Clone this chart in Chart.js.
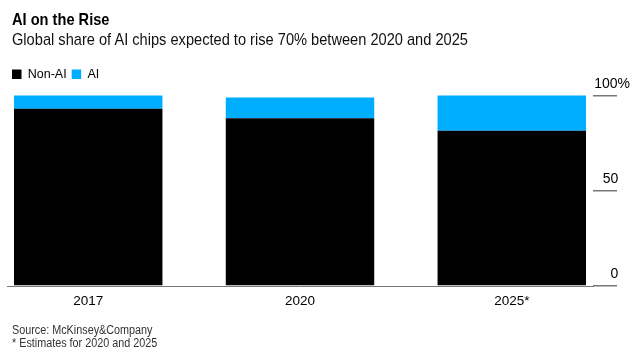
<!DOCTYPE html>
<html>
<head>
<meta charset="utf-8">
<script src="https://cdn.jsdelivr.net/npm/chart.js@4"></script>
<style>
  html, body { margin: 0; padding: 0; background: #fff; }
  #wrap { position: relative; width: 636px; height: 352px; overflow: hidden; }
  #c { position: absolute; left: 0; top: 0; }
  .txt { position: absolute; left: 12px; white-space: nowrap; font-family: 'Liberation Sans', Arial, sans-serif; transform-origin: 0 0; }
  #title { top: 11px; font-size: 17px; line-height: 17px; font-weight: bold; color: #000; transform: scaleX(0.86); }
  #subtitle { top: 31px; font-size: 17px; line-height: 17px; color: #111; transform: scaleX(0.86); }
  #footer { top: 324px; font-size: 12px; line-height: 12.5px; color: #333; transform: scaleX(0.9); }
</style>
</head>
<body>
<div id="wrap">
  <canvas id="c" width="636" height="352"></canvas>
  <div class="txt" id="title">AI on the Rise</div>
  <div class="txt" id="subtitle">Global share of AI chips expected to rise 70% between 2020 and 2025</div>
  <div class="txt" id="footer">Source: McKinsey&amp;Company<br>* Estimates for 2020 and 2025</div>
</div>
<script>
const categories = ['2017', '2020', '2025*'];
const nonAI = [93, 88, 81.5];
const ai = [7, 11, 18.5];
const yTickValues = [0, 50, 100];
const seriesNames = ['Non-AI', 'AI'];

const toPoints = arr => arr.map((v, i) => ({ x: i, y: v }));

new Chart(document.getElementById('c'), {
  type: 'bar',
  data: {
    datasets: [
      { label: seriesNames[0], data: toPoints(nonAI), backgroundColor: '#000000', borderWidth: 0 },
      { label: seriesNames[1], data: toPoints(ai), backgroundColor: '#00aeff', borderWidth: 0 }
    ]
  },
  options: {
    responsive: false,
    animation: false,
    events: [],
    layout: { padding: { top: 40, left: 7, right: 6, bottom: 0 } },
    categoryPercentage: 1,
    barPercentage: 0.701,
    plugins: {
      legend: {
        display: true,
        position: 'top',
        align: 'start',
        labels: {
          boxWidth: 9.5,
          boxHeight: 9.5,
          padding: 5,
          color: '#000',
          font: { family: "'Liberation Sans', Arial, sans-serif", size: 12.5 }
        }
      },
      tooltip: { enabled: false }
    },
    scales: {
      x: {
        type: 'linear',
        stacked: true,
        offset: false,
        min: -0.3835,
        max: 2.3835,
        afterBuildTicks: s => { s.ticks = categories.map((c, i) => ({ value: i })); },
        afterFit: s => { s.height = 66; },
        grid: { display: false, drawTicks: false },
        border: { display: true, color: '#777', width: 1 },
        ticks: {
          padding: 7.5,
          color: '#000',
          font: { family: "'Liberation Sans', Arial, sans-serif", size: 13.5 },
          callback: v => categories[v]
        }
      },
      y: {
        position: 'right',
        stacked: true,
        min: 0,
        max: 102.62,
        afterBuildTicks: s => { s.ticks = yTickValues.map(v => ({ value: v })); },
        afterFit: s => { s.width = 37; s.paddingTop = 90.5; s.paddingBottom = 0; },
        grid: { drawOnChartArea: false, drawTicks: true, tickLength: 24, color: '#777', lineWidth: 1.5 },
        border: { display: false },
        ticks: {
          padding: -28.8,
          labelOffset: -11.5,
          crossAlign: 'far',
          color: '#000',
          font: { family: "'Liberation Sans', Arial, sans-serif", size: 14 },
          callback: v => (v === 100 ? v + '%' : v + '   ')
        }
      }
    }
  }
});
</script>
</body>
</html>
